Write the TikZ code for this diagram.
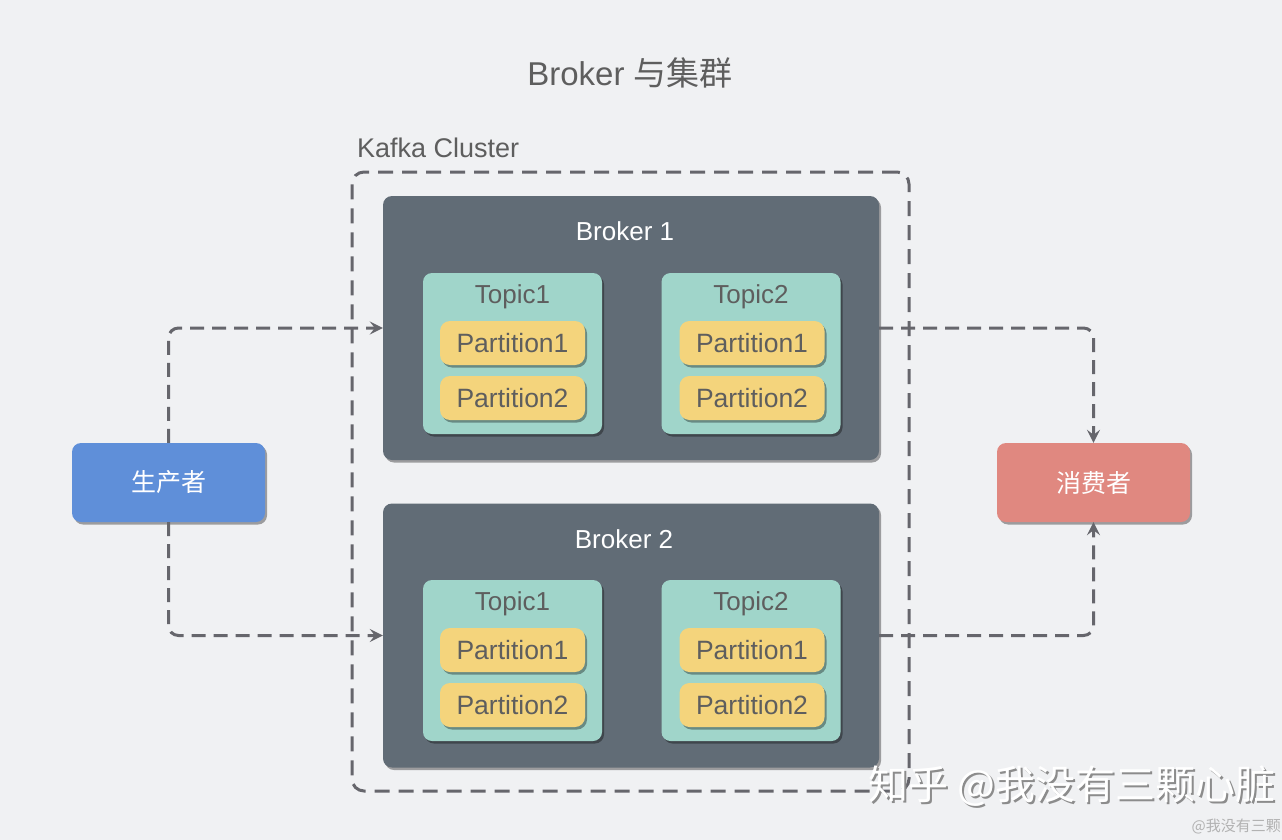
\documentclass[tikz,border=0pt]{standalone}
\usepackage{fontspec}
\setmainfont{Liberation Sans}
\newfontfamily\cjk{Noto Sans CJK SC}
\usetikzlibrary{arrows.meta,shadows}
\definecolor{bg}{HTML}{F0F1F3}
\definecolor{brokerc}{HTML}{616C76}
\definecolor{topicc}{HTML}{A0D5CA}
\definecolor{partc}{HTML}{F4D47C}
\definecolor{prodc}{HTML}{5F8FD9}
\definecolor{consc}{HTML}{E08880}
\definecolor{linec}{HTML}{66666C}
\definecolor{txtc}{HTML}{5E5E5E}
\tikzset{
  shad/.style={drop shadow={shadow xshift=2pt,shadow yshift=-2.5pt,opacity=0.35,fill=black}},
  brokerbox/.style={rectangle,rounded corners=9pt,fill=brokerc,minimum width=496pt,minimum height=264pt,shad},
  topicbox/.style={rectangle,rounded corners=9pt,fill=topicc,minimum width=179pt,minimum height=161pt,shad},
  partbox/.style={rectangle,rounded corners=10pt,fill=partc,minimum width=145pt,minimum height=44pt,shad,text=txtc,font=\fontsize{26.5}{30}\selectfont,inner sep=0pt},
  endbox/.style={rectangle,rounded corners=9pt,minimum width=193pt,minimum height=79pt,shad,text=white,font=\cjk\fontsize{25}{30}\selectfont},
  lbl/.style={inner sep=0pt,font=\fontsize{26}{30}\selectfont},
  flow/.style={draw=linec,line width=3pt,dash pattern=on 14pt off 8pt,rounded corners=10pt,-{Stealth[length=13pt,width=13pt,inset=5pt]}},
}
\begin{document}
\begin{tikzpicture}[x=1pt,y=-1pt]
\fill[bg] (0,0) rectangle (1282,840);
\useasboundingbox (0,0) rectangle (1282,840);
% title
\node[lbl,text=txtc,font=\fontsize{33}{38}\selectfont] (title) at (630,73) {Broker {\cjk 与集群}};
\node[lbl,text=txtc,anchor=west,font=\fontsize{27}{30}\selectfont] (clabel) at (357,148) {Kafka Cluster};
% cluster
\node[draw=linec,line width=3pt,dash pattern=on 15pt off 9pt,rounded corners=12pt,minimum width=557pt,minimum height=619pt] (cluster) at (630.5,481.5) {};
% brokers
\node[brokerbox] (b1) at (631,328) {};
\node[brokerbox] (b2) at (631,635.5) {};
\node[lbl,text=white] (b1l) at (625,231) {Broker 1};
\node[lbl,text=white] (b2l) at (624,539) {Broker 2};
% broker 1 topics
\node[topicbox] (t11) at (512.5,353.5) {};
\node[topicbox] (t12) at (751,353.5) {};
\node[lbl,text=txtc] (t11l) at (512.5,297) {Topic1};
\node[lbl,text=txtc] (t12l) at (751,297) {Topic2};
\node[partbox] (p111) at (512.5,343) {Partition1};
\node[partbox] (p112) at (512.5,398) {Partition2};
\node[partbox] (p121) at (752,343) {Partition1};
\node[partbox] (p122) at (752,398) {Partition2};
% broker 2 topics
\node[topicbox] (t21) at (512.5,660.5) {};
\node[topicbox] (t22) at (751,660.5) {};
\node[lbl,text=txtc] (t21l) at (512.5,604) {Topic1};
\node[lbl,text=txtc] (t22l) at (751,604) {Topic2};
\node[partbox] (p211) at (512.5,650) {Partition1};
\node[partbox] (p212) at (512.5,705) {Partition2};
\node[partbox] (p221) at (752,650) {Partition1};
\node[partbox] (p222) at (752,705) {Partition2};
% producer / consumer
\node[endbox,fill=prodc] (prod) at (168.5,482.5) {生产者};
\node[endbox,fill=consc] (cons) at (1093.5,482.5) {消费者};
% connectors
\draw[flow] (prod) |- (b1);
\draw[flow] (prod) |- (b2);
\draw[flow] (b1) -| (cons);
\draw[flow] (b2) -| (cons);
% watermarks
\node[inner sep=0pt,anchor=west,text=black!45,font=\cjk\fontsize{40}{44}\selectfont] (wm0) at (870.5,788.5) {知乎 @我没有三颗心脏};
\node[inner sep=0pt,anchor=west,text=white,font=\cjk\fontsize{40}{44}\selectfont] (wm) at (868,786) {知乎 @我没有三颗心脏};
\node[inner sep=0pt,anchor=east,text=black!30,font=\cjk\fontsize{15}{17}\selectfont] (wm2) at (1281,826) {@我没有三颗};
\end{tikzpicture}
\end{document}
